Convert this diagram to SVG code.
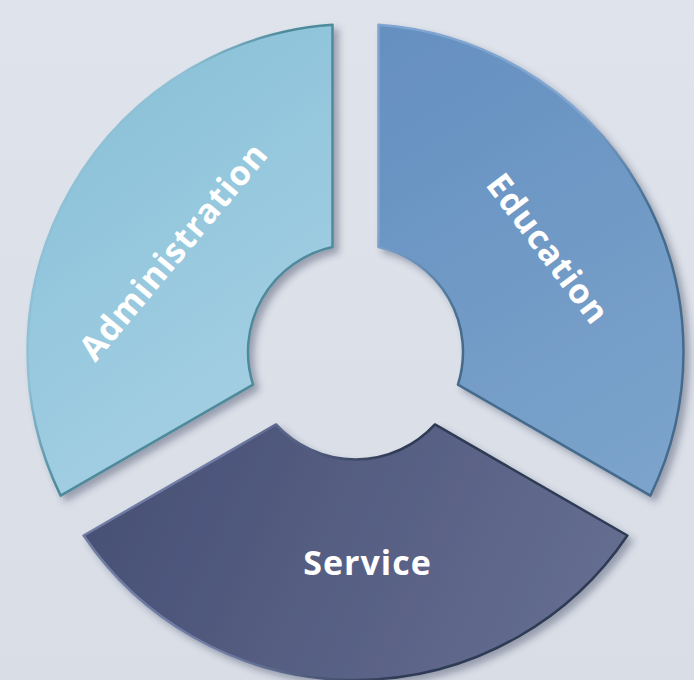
<svg xmlns="http://www.w3.org/2000/svg" width="694" height="680" viewBox="0 0 694 680">
<defs>
<linearGradient id="bg" x1="0" y1="0" x2="0" y2="1"><stop offset="0" stop-color="#dfe3eb"/><stop offset="1" stop-color="#d9dde6"/></linearGradient>
<linearGradient id="fA" gradientUnits="userSpaceOnUse" x1="60" y1="100" x2="330" y2="480"><stop offset="0" stop-color="#8ac1d7"/><stop offset="0.5" stop-color="#9acae0"/><stop offset="1" stop-color="#a9d1e2"/></linearGradient>
<linearGradient id="fE" gradientUnits="userSpaceOnUse" x1="390" y1="40" x2="650" y2="480"><stop offset="0" stop-color="#6590c0"/><stop offset="1" stop-color="#7ba3cb"/></linearGradient>
<linearGradient id="fS" gradientUnits="userSpaceOnUse" x1="120" y1="440" x2="600" y2="660"><stop offset="0" stop-color="#485075"/><stop offset="1" stop-color="#666f92"/></linearGradient>
<linearGradient id="sA" gradientUnits="userSpaceOnUse" x1="0" y1="0" x2="400" y2="200"><stop offset="0.44" stop-color="#8fc0d5"/><stop offset="0.6" stop-color="#4e8a9b"/></linearGradient>
<linearGradient id="sE" gradientUnits="userSpaceOnUse" x1="378" y1="25" x2="650" y2="496"><stop offset="0.33" stop-color="#7fa5d0"/><stop offset="0.55" stop-color="#446b8c"/></linearGradient>
<linearGradient id="sS" gradientUnits="userSpaceOnUse" x1="100" y1="0" x2="600" y2="0"><stop offset="0.25" stop-color="#6f7ca3"/><stop offset="0.6" stop-color="#2f3a54"/></linearGradient>
<filter id="sh" x="-15%" y="-15%" width="135%" height="135%">
<feGaussianBlur in="SourceAlpha" stdDeviation="3.5"/>
<feOffset dx="5" dy="5" result="b"/>
<feFlood flood-color="#2a3550" flood-opacity="0.38"/>
<feComposite in2="b" operator="in"/>
<feMerge><feMergeNode/><feMergeNode in="SourceGraphic"/></feMerge>
</filter>
</defs>
<style>
.seg{stroke-width:2.5;stroke-linejoin:round;filter:url(#sh)}
.lbl{font-family:"Open Sans","Liberation Sans",sans-serif;font-weight:700;font-size:34px;letter-spacing:1px;fill:#ffffff;text-anchor:middle}
</style>
<rect width="694" height="680" fill="url(#bg)"/>
<g id="connectors"/>
<g id="administration">
<path class="seg" fill="url(#fA)" stroke="url(#sA)" d="M332.5 24.81 A328 328 0 0 0 60.65 495.68 L253.06 384.58 A107.5 107.5 0 0 1 332.5 246.99 Z"/>
<text class="lbl" transform="translate(182.5,259) rotate(-50)">Administration</text>
</g>
<g id="education">
<path class="seg" fill="url(#fE)" stroke="url(#sE)" d="M378.5 24.81 A328 328 0 0 1 650.35 495.68 L457.94 384.58 A107.5 107.5 0 0 0 378.5 246.99 Z"/>
<text class="lbl" transform="translate(538.5,256) rotate(53)">Education</text>
</g>
<g id="service">
<path class="seg" fill="url(#fS)" stroke="url(#sS)" d="M627.35 535.52 A328 328 0 0 1 83.65 535.52 L276.06 424.42 A107.5 107.5 0 0 0 434.94 424.42 Z"/>
<text class="lbl" x="367.5" y="575">Service</text>
</g>
</svg>
